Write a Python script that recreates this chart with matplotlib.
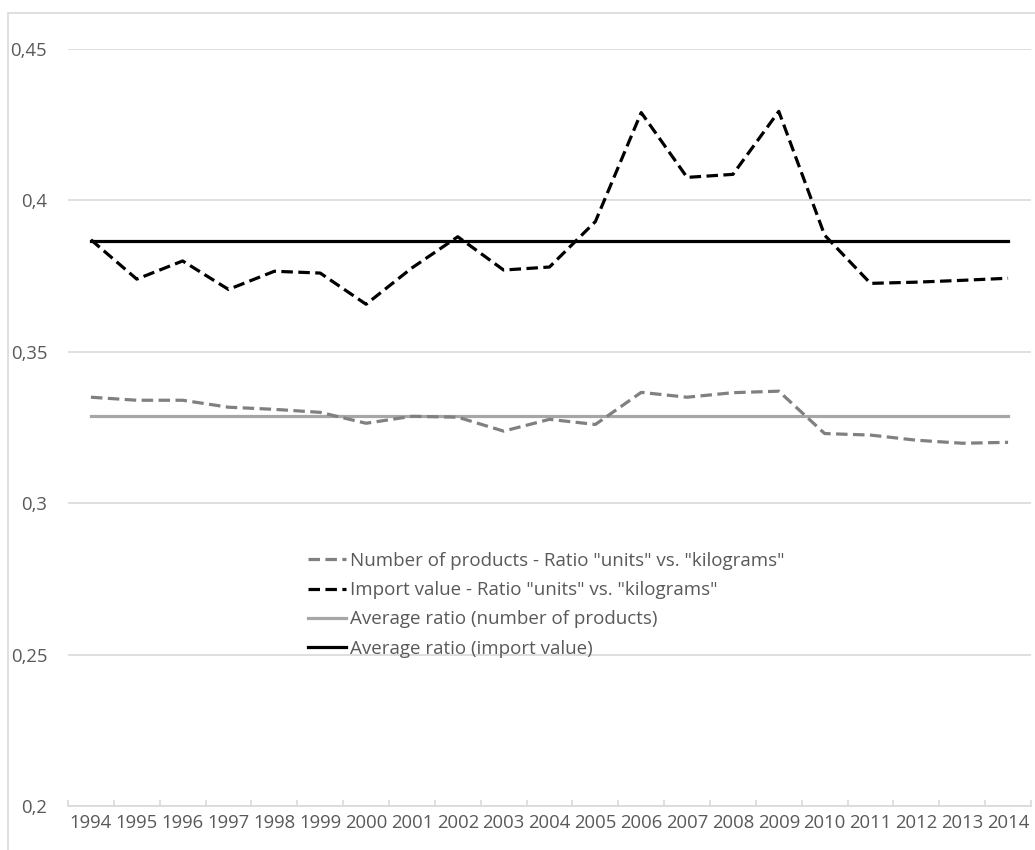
"""Ratio "units" vs. "kilograms", 1994-2014: yearly ratios with their averages."""

import matplotlib

matplotlib.use("Agg")

import matplotlib.pyplot as plt  # noqa: E402
from matplotlib.patches import Rectangle  # noqa: E402
from matplotlib.ticker import FixedLocator, FuncFormatter  # noqa: E402

years = [str(y) for y in range(1994, 2015)]

products_ratio = [0.335, 0.334, 0.334, 0.3317, 0.331, 0.330, 0.3264, 0.3287,
                  0.3284, 0.3238, 0.3277, 0.326, 0.3366, 0.335, 0.3365, 0.337,
                  0.323, 0.3225, 0.3208, 0.3198, 0.3201]
import_ratio = [0.387, 0.374, 0.380, 0.3706, 0.3766, 0.376, 0.3657, 0.3777,
                0.388, 0.377, 0.378, 0.393, 0.429, 0.4076, 0.4086, 0.4294,
                0.3885, 0.3726, 0.373, 0.3736, 0.3743]
avg_products = 0.3287
avg_import = 0.3865

labels = [
    'Number of products - Ratio "units" vs. "kilograms"',
    'Import value - Ratio "units" vs. "kilograms"',
    "Average ratio (number of products)",
    "Average ratio (import value)",
]

TEXT = "#595959"
GRID = "#d9d9d9"
plt.rcParams["font.family"] = ["Open Sans", "DejaVu Sans"]

W, H = 1035, 850
fig = plt.figure(figsize=(W / 100, H / 100), dpi=100)
ax = fig.add_axes([68 / W, 1 - 806 / H, (1031 - 68) / W, (806 - 49) / H])

# chart-area border (Excel style), partly cut off by the image edge
fig.patches.append(Rectangle((8 / W, -0.1), 1.2, 1 - 13 / H + 0.1,
                             transform=fig.transFigure, fill=False,
                             edgecolor=GRID, lw=1.2, zorder=0))

x = list(range(len(years)))
lw = 2.3
ax.plot(x, products_ratio, color="#808080", lw=lw, dashes=(3.6, 1.7),
        label=labels[0], zorder=3)
ax.plot(x, import_ratio, color="black", lw=lw, dashes=(3.6, 1.7),
        label=labels[1], zorder=4)
ax.plot(x, [avg_products] * len(x), color="#a6a6a6", lw=lw,
        label=labels[2], zorder=2)
ax.plot(x, [avg_import] * len(x), color="black", lw=lw,
        label=labels[3], zorder=2)

ax.set_xlim(-0.5, len(years) - 0.5)
ax.set_ylim(0.2, 0.45)
ax.set_yticks([0.2, 0.25, 0.3, 0.35, 0.4, 0.45])
ax.yaxis.set_major_formatter(
    FuncFormatter(lambda v, _: f"{v:.2f}".rstrip("0").replace(".", ",")))
ax.set_xticks(x)
ax.set_xticklabels(years)
ax.xaxis.set_minor_locator(FixedLocator([i - 0.5 for i in range(len(years) + 1)]))

ax.grid(axis="y", color=GRID, lw=1.2)
ax.set_axisbelow(True)
for side in ("top", "right", "left"):
    ax.spines[side].set_visible(False)
ax.spines["bottom"].set_color(GRID)
ax.spines["bottom"].set_linewidth(1.2)

ax.tick_params(axis="x", which="major", length=0, pad=6, labelsize=13.3,
               labelcolor=TEXT)
ax.tick_params(axis="x", which="minor", direction="in", length=4.5,
               color=GRID, width=1.2)
ax.tick_params(axis="y", length=0, pad=15, labelsize=13.3, labelcolor=TEXT)

leg = ax.legend(loc="upper left", bbox_to_anchor=(308 / W, 1 - 552 / H),
                bbox_transform=fig.transFigure, frameon=False, fontsize=13.5,
                handlelength=2.0, handletextpad=0.25, labelspacing=0.6,
                borderpad=0, borderaxespad=0)
for t in leg.get_texts():
    t.set_color(TEXT)

fig.savefig("out.png", dpi=100)
